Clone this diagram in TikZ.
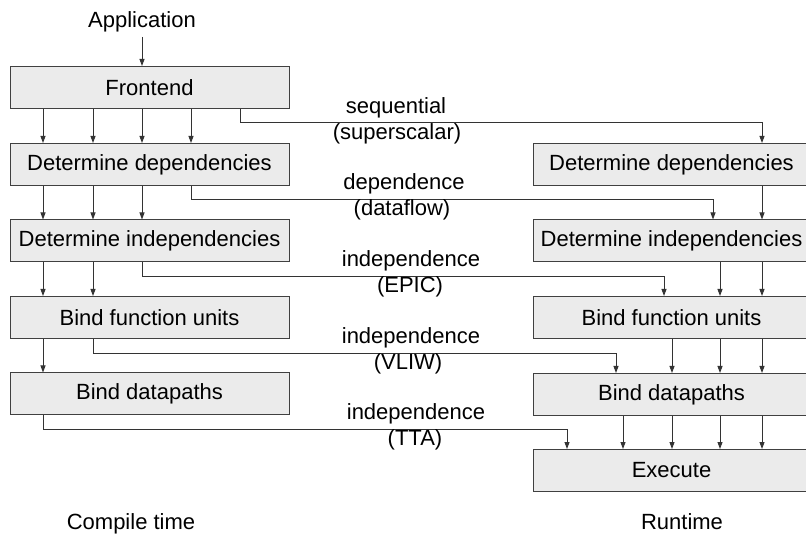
\documentclass[tikz,border=0pt]{standalone}
\usepackage{fontspec}
\setmainfont{Liberation Sans}
\usetikzlibrary{arrows.meta}
\begin{document}
\begin{tikzpicture}[x=1pt,y=-1pt,
  every node/.style={font=\fontsize{22}{26}\selectfont, inner sep=0pt},
  stage/.style={draw=black!75, fill=black!8, line width=1pt, minimum height=42pt},
  lstage/.style={stage, minimum width=279pt},
  rstage/.style={stage, minimum width=277pt},
  arr/.style={draw=black!80, line width=0.9pt, -{Triangle[length=7pt,width=5pt]}},
  lbl/.style={anchor=base}
]
\useasboundingbox (0,0) rectangle (806,534);
% column coordinates
\coordinate (L1) at (43,0);
\coordinate (L2) at (93,0);
\coordinate (L3) at (142,0);
\coordinate (L4) at (191,0);
\coordinate (L5) at (240,0);
\coordinate (R1) at (567,0);
\coordinate (R2) at (616,0);
\coordinate (R3) at (664,0);
\coordinate (R4) at (713,0);
\coordinate (Q1) at (623,0);
\coordinate (Q2) at (672,0);
\coordinate (Q3) at (720,0);
\coordinate (Q4) at (762,0);

% left column
\node[lbl] (app) at (142,28) {Application};
\node[lstage] (fe)  at (149.5,87.5)  {Frontend};
\node[lstage] (ddl) at (149.5,164.5) {Determine dependencies};
\node[lstage] (dil) at (149.5,241)   {Determine independencies};
\node[lstage] (bfl) at (149.5,317.5) {Bind function units};
\node[lstage] (bdl) at (149.5,394)   {Bind datapaths};

% right column
\node[rstage] (ddr) at (671.5,164.5) {Determine dependencies};
\node[rstage] (dir) at (671.5,241)   {Determine independencies};
\node[rstage] (bfr) at (671.5,317.5) {Bind function units};
\node[rstage] (bdr) at (671.5,394.5) {Bind datapaths};
\node[rstage] (ex)  at (671.5,470.5) {Execute};

% footers
\node[lbl] (ct) at (131,529) {Compile time};
\node[lbl] (rt) at (682,529) {Runtime};

% application into frontend
\draw[arr] (app.south -| L3) ++(0,4) -- (fe.north -| L3);

% left internal arrows
\foreach \c in {L1,L2,L3,L4} \draw[arr] (fe.south -| \c) -- (ddl.north -| \c);
\foreach \c in {L1,L2,L3} \draw[arr] (ddl.south -| \c) -- (dil.north -| \c);
\foreach \c in {L1,L2} \draw[arr] (dil.south -| \c) -- (bfl.north -| \c);
\draw[arr] (bfl.south -| L1) -- (bdl.north -| L1);

% right internal arrows
\draw[arr] (ddr.south -| Q4) -- (dir.north -| Q4);
\foreach \c in {Q3,Q4} \draw[arr] (dir.south -| \c) -- (bfr.north -| \c);
\foreach \c in {Q2,Q3,Q4} \draw[arr] (bfr.south -| \c) -- (bdr.north -| \c);
\foreach \c in {Q1,Q2,Q3,Q4} \draw[arr] (bdr.south -| \c) -- (ex.north -| \c);

% cross connectors
\draw[arr] (fe.south -| L5) -- ++(0,13.5) -| (ddr.north -| Q4);
\draw[arr] (ddl.south -| L4) -- ++(0,13.5) -| (dir.north -| R4);
\draw[arr] (dil.south -| L3) -- ++(0,14) -| (bfr.north -| R3);
\draw[arr] (bfl.south -| L2) -- ++(0,14) -| (bdr.north -| R2);
\draw[arr] (bdl.south -| L1) -- ++(0,13.5) -| (ex.north -| R1);

% labels
\node[lbl] (s1a) at (396,114) {sequential};
\node[lbl] (s1b) at (397,140) {(superscalar)};
\node[lbl] (s2a) at (404,190) {dependence};
\node[lbl] (s2b) at (402,216) {(dataflow)};
\node[lbl] (s3a) at (411,267) {independence};
\node[lbl] (s3b) at (410,293) {(EPIC)};
\node[lbl] (s4a) at (411,344) {independence};
\node[lbl] (s4b) at (408,370) {(VLIW)};
\node[lbl] (s5a) at (416,420) {independence};
\node[lbl] (s5b) at (415,446) {(TTA)};
\end{tikzpicture}
\end{document}
